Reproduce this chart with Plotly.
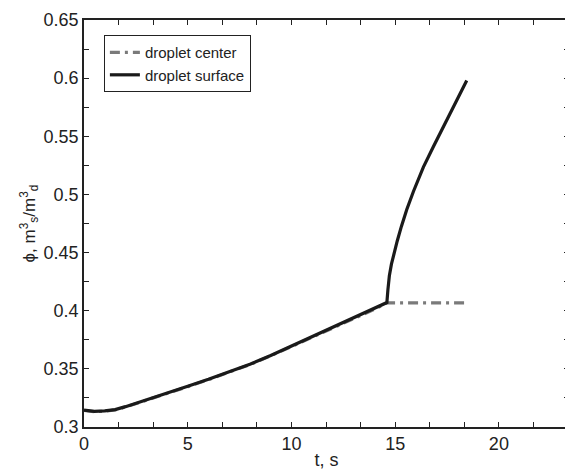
import plotly.graph_objects as go

# Droplet surface
t_surface = [0, 0.5, 1, 1.5, 2, 2.5, 3, 4, 5, 6, 7, 8, 9, 10, 11, 12, 13, 14, 14.6,
             14.65, 14.72, 14.82, 14.95, 15.1, 15.3, 15.56, 15.88, 16.36, 16.84, 17.32,
             17.81, 18.45]
phi_surface = [0.3145, 0.3135, 0.3138, 0.315, 0.3175, 0.3203, 0.3232, 0.3290, 0.3350, 0.3410,
               0.3472, 0.3540, 0.3615, 0.3695, 0.3775, 0.3855, 0.3935, 0.4015, 0.4070,
               0.418, 0.430, 0.440, 0.450, 0.460, 0.4725, 0.487, 0.5025, 0.5235, 0.541,
               0.558, 0.5754, 0.598]

# Droplet center
t_center = [0, 0.5, 1, 1.5, 2, 2.5, 3, 4, 5, 6, 7, 8, 9, 10, 11, 12, 13, 14, 14.6, 18.45]
phi_center = [0.3142, 0.3132, 0.3135, 0.3147, 0.3172, 0.3200, 0.3229, 0.3287, 0.3347, 0.3407,
              0.3469, 0.3537, 0.3612, 0.3692, 0.3772, 0.3852, 0.3932, 0.4012, 0.4068, 0.4068]

x_tickvals = [0, 5, 10, 15, 20]
x_minorvals = [i * 5 / 3 for i in range(15)]
y_tickvals = [0.3, 0.35, 0.4, 0.45, 0.5, 0.55, 0.6, 0.65]
y_ticktext = ["0.3", "0.35", "0.4", "0.45", "0.5", "0.55", "0.6", "0.65"]
y_minorvals = [0.325 + 0.05 * i for i in range(7)]

fig = go.Figure()
fig.add_trace(go.Scatter(x=t_center, y=phi_center, mode="lines", name="droplet center",
                         line=dict(color="#7a7a7a", width=3.2, dash="10px,5px,3px,5px")))
fig.add_trace(go.Scatter(x=t_surface, y=phi_surface, mode="lines", name="droplet surface",
                         line=dict(color="#1a1a1a", width=3.2)))

axis_common = dict(showgrid=False, zeroline=False, showline=True, linecolor="#222",
                   linewidth=1.5, mirror="ticks", ticks="inside", ticklen=5,
                   tickcolor="#222", tickwidth=1, automargin=False,
                   tickfont=dict(family="Liberation Sans, Arial", size=18, color="#222"))

fig.update_xaxes(range=[0, 23.38], tickmode="array", tickvals=x_tickvals,
                 minor=dict(tickmode="array", tickvals=x_minorvals, ticks="inside", ticklen=5,
                            tickcolor="#222", tickwidth=1, showgrid=False),
                 title=dict(text="t, s", font=dict(family="Liberation Sans, Arial", size=18, color="#222"),
                            standoff=0),
                 **axis_common)
fig.update_yaxes(range=[0.3, 0.65], tickmode="array", tickvals=y_tickvals, ticktext=y_ticktext,
                 minor=dict(tickmode="array", tickvals=y_minorvals, ticks="inside", ticklen=5,
                            tickcolor="#222", tickwidth=1, showgrid=False),
                 title=dict(text="ϕ, m<sup>3</sup><sub>s</sub>/m<sup>3</sup><sub>d</sub>",
                            font=dict(family="Liberation Sans, Arial", size=17, color="#222"),
                            standoff=4),
                 **axis_common)

fig.update_layout(
    width=565, height=462,
    margin=dict(l=76, r=4, t=12, b=43),
    paper_bgcolor="white", plot_bgcolor="white",
    showlegend=True,
    legend=dict(x=0.041, y=0.963, xanchor="left", yanchor="top",
                bgcolor="white", bordercolor="#222", borderwidth=1,
                font=dict(family="Liberation Sans, Arial", size=15, color="#222"),
                tracegroupgap=0, itemwidth=30),
)

fig.write_html("out.html")
